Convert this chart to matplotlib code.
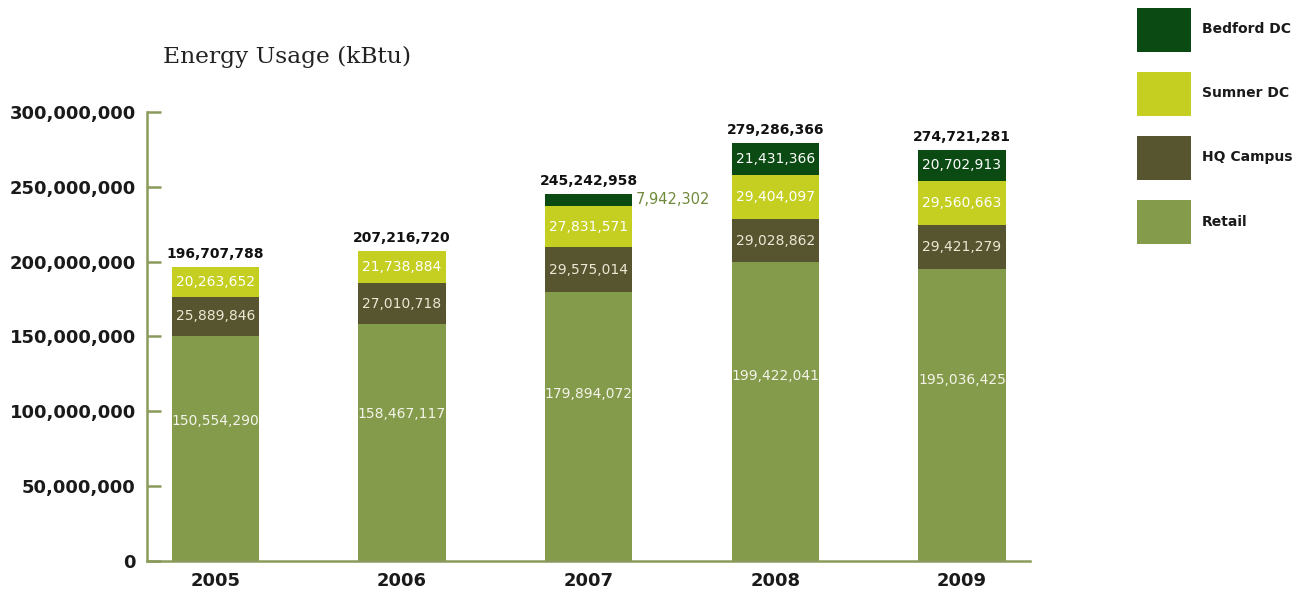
import matplotlib.pyplot as plt
from matplotlib.ticker import FuncFormatter

years = ['2005', '2006', '2007', '2008', '2009']
retail = [150554290, 158467117, 179894072, 199422041, 195036425]
hq_campus = [25889846, 27010718, 29575014, 29028862, 29421279]
sumner_dc = [20263652, 21738884, 27831571, 29404097, 29560663]
bedford_dc = [0, 0, 7942302, 21431366, 20702913]
totals = [196707788, 207216720, 245242958, 279286366, 274721281]

c_retail = '#849b4b'
c_hq = '#575530'
c_sumner = '#c5cf22'
c_bedford = '#0b4a12'
c_axis = '#8a9a5b'

fig = plt.figure(figsize=(13.11, 6.05), dpi=100)
ax = fig.add_axes([0.112, 0.0727, 0.674, 0.7423])

x = list(range(len(years)))
w = 0.467
b1 = ax.bar(x, retail, w, color=c_retail, label='Retail')
base = retail
b2 = ax.bar(x, hq_campus, w, bottom=base, color=c_hq, label='HQ Campus')
base = [a + b for a, b in zip(base, hq_campus)]
b3 = ax.bar(x, sumner_dc, w, bottom=base, color=c_sumner, label='Sumner DC')
base = [a + b for a, b in zip(base, sumner_dc)]
b4 = ax.bar(x, bedford_dc, w, bottom=base, color=c_bedford, label='Bedford DC')
top = [a + b for a, b in zip(base, bedford_dc)]

# retail values sit a bit above the middle of the segment
for i, v in enumerate(retail):
    ax.text(i, v * 0.62, f'{v:,}', color='#f4f4ea', fontsize=10,
            ha='center', va='center')
ax.bar_label(b2, labels=[f'{v:,}' for v in hq_campus], label_type='center',
             color='#ece8d4', fontsize=10)
ax.bar_label(b3, labels=[f'{v:,}' for v in sumner_dc], label_type='center',
             color='white', fontsize=10)
# small Bedford segment in 2007 gets its label outside
inner = [f'{v:,}' if v > 10000000 else '' for v in bedford_dc]
ax.bar_label(b4, labels=inner, label_type='center', color='white', fontsize=10)
for i, v in enumerate(bedford_dc):
    if 0 < v <= 10000000:
        ax.text(i + w / 2 + 0.02, base[i] + v / 2, f'{v:,}', color='#6f8a3a',
                fontsize=10.5, ha='left', va='center')

# totals above the bars
for i, t in enumerate(totals):
    ax.annotate(f'{t:,}', (i, top[i]), xytext=(0, 4), textcoords='offset points',
                ha='center', va='bottom', fontsize=10, fontweight='bold',
                color='#111111')

ax.set_xlim(-0.367, 4.367)
ax.set_ylim(0, 300000000)
ax.set_xticks(x)
ax.set_xticklabels(years)
ax.set_yticks(range(0, 300000001, 50000000))
ax.yaxis.set_major_formatter(FuncFormatter(lambda v, p: f'{int(v):,}'))

for s in ['top', 'right']:
    ax.spines[s].set_visible(False)
for s in ['left', 'bottom']:
    ax.spines[s].set_color(c_axis)
    ax.spines[s].set_linewidth(1.8)
ax.tick_params(axis='y', direction='in', length=10, width=1.8, color=c_axis,
               labelsize=13, pad=8)
ax.tick_params(axis='x', length=0, labelsize=13, pad=8)
for lab in ax.get_xticklabels() + ax.get_yticklabels():
    lab.set_fontweight('bold')
    lab.set_color('#1a1a1a')

fig.text(163 / 1311, 1 - 57 / 605, 'Energy Usage (kBtu)', family='DejaVu Serif',
         fontsize=16.8, color='#222222', va='center', ha='left')

leg = fig.legend(handles=[b4, b3, b2, b1], loc='upper left',
                 bbox_to_anchor=(1131 / 1311, 1 - 2 / 605), frameon=False,
                 fontsize=10, handlelength=3.9, handleheight=4.5,
                 labelspacing=1.45, handletextpad=0.8, borderaxespad=0)
for t in leg.get_texts():
    t.set_fontweight('bold')
    t.set_color('#1a1a1a')

fig.savefig('out.png', dpi=100)
